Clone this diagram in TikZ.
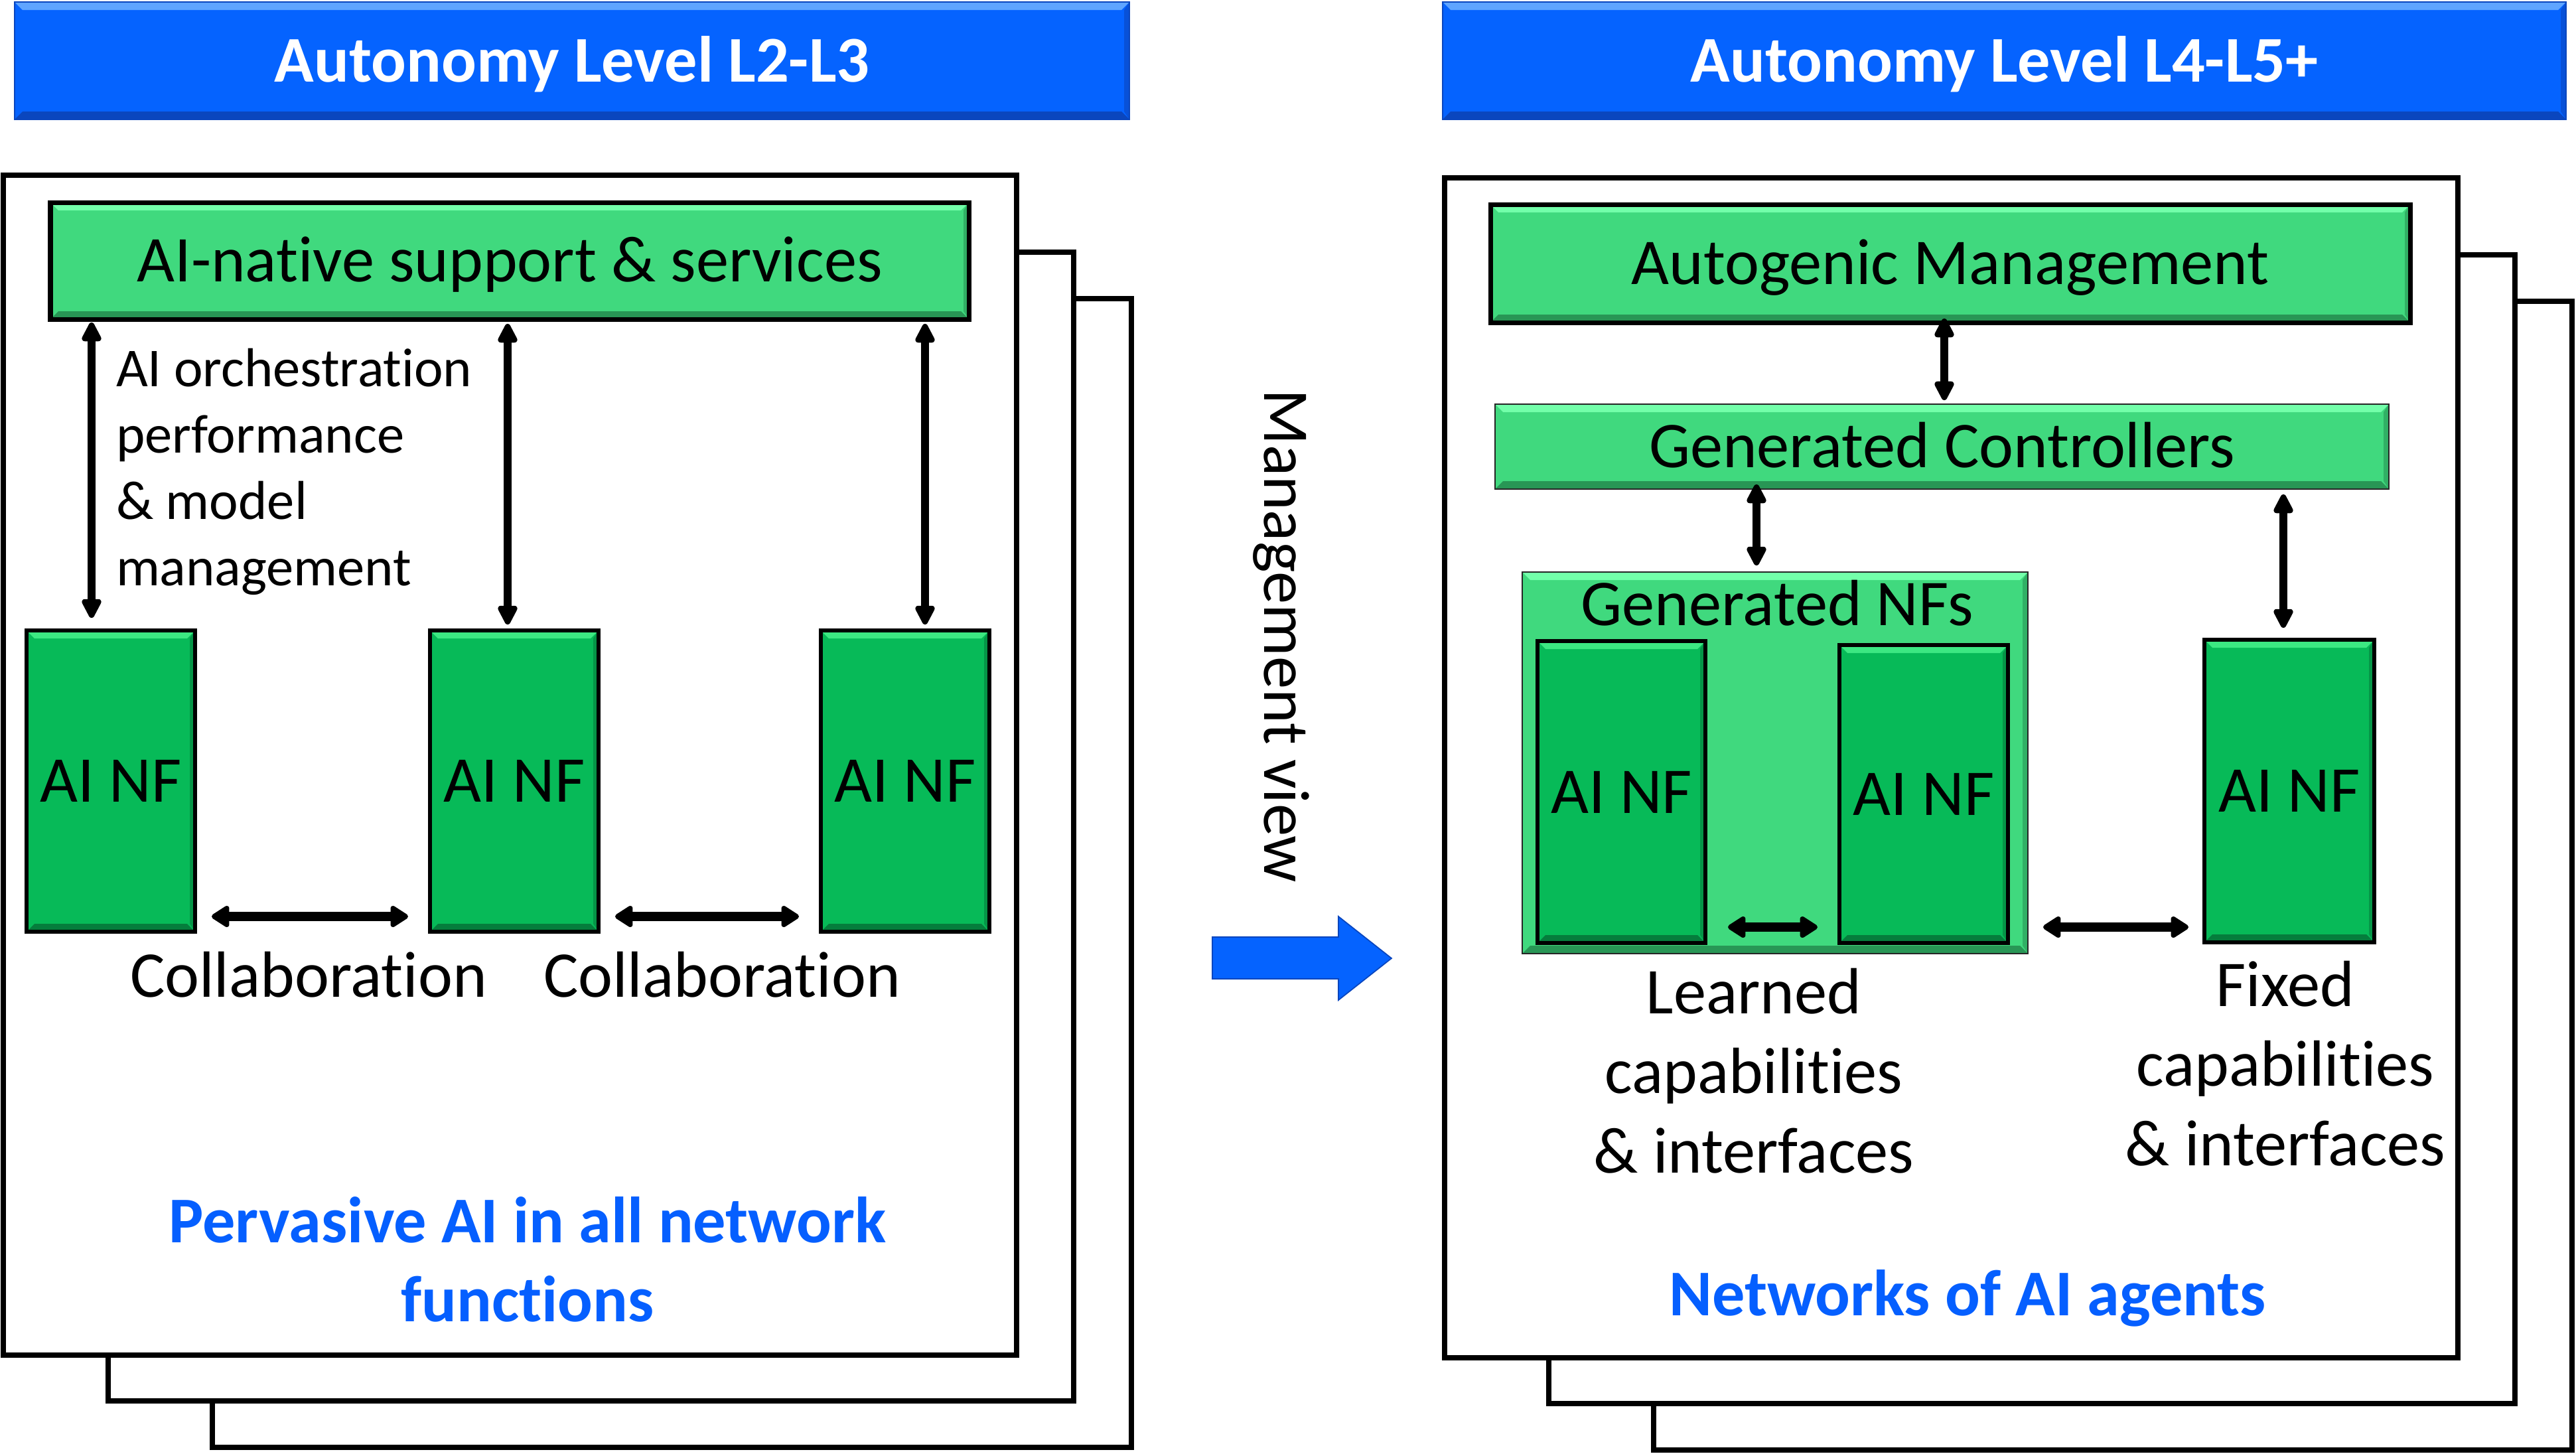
\documentclass[tikz,border=0pt]{standalone}
\usepackage{fontspec}
\setmainfont{Carlito}[Ligatures={NoCommon}]
\usetikzlibrary{arrows.meta,calc}
\definecolor{hblue}{RGB}{5,99,255}
\definecolor{hbluelt}{RGB}{95,165,255}
\definecolor{hbluedk}{RGB}{10,70,190}
\definecolor{lgreen}{RGB}{64,217,126}
\definecolor{lgreenlt}{RGB}{115,255,170}
\definecolor{lgreendk}{RGB}{40,150,85}
\definecolor{dgreen}{RGB}{7,186,88}
\definecolor{dgreenlt}{RGB}{60,232,130}
\definecolor{dgreendk}{RGB}{5,125,60}
\definecolor{tblue}{RGB}{5,95,255}
\newcommand{\mysz}{\fontsize{28}{34}\selectfont}
\newcommand{\mysmall}{\fontsize{23.5}{28}\selectfont}
\begin{document}
\begin{tikzpicture}[x=1cm,y=1cm,
  every node/.style={inner sep=0pt, outer sep=0pt},
  bevel/.style 2 args={path picture={
    \fill[#1] (path picture bounding box.north west) -- (path picture bounding box.north east)
      -- ([shift={(-0.12,-0.12)}]path picture bounding box.north east)
      -- ([shift={(0.12,-0.12)}]path picture bounding box.north west) -- cycle;
    \fill[#2] (path picture bounding box.south west) -- (path picture bounding box.south east)
      -- ([shift={(-0.12,0.12)}]path picture bounding box.south east)
      -- ([shift={(0.12,0.12)}]path picture bounding box.south west) -- cycle;
    \fill[#2, opacity=0.6] (path picture bounding box.north east) -- (path picture bounding box.south east)
      -- ([shift={(-0.08,0.12)}]path picture bounding box.south east)
      -- ([shift={(-0.08,-0.12)}]path picture bounding box.north east) -- cycle;
  }},
  capc/.style={text height=18pt, text depth=0pt},
  page/.style={draw=black, line width=0.08cm, fill=white},
  hdr/.style={fill=hblue, draw=hbluedk, line width=0.8pt, bevel={hbluelt}{hbluedk},
    text=white, font=\mysz\bfseries, capc},
  gbox/.style={fill=lgreen, draw=black, line width=0.07cm, bevel={lgreenlt}{lgreendk},
    font=\mysz, capc},
  gthin/.style={fill=lgreen, draw=black!85, line width=0.8pt, bevel={lgreenlt}{lgreendk},
    font=\mysz},
  nfbox/.style={fill=dgreen, draw=black, line width=0.065cm, bevel={dgreenlt}{dgreendk},
    minimum width=2.54cm, font=\mysz, capc},
  txt/.style={font=\mysz, anchor=base},
  small/.style={font=\mysmall, anchor=base west},
  btxt/.style={font=\mysz\bfseries, text=tblue, anchor=base},
  varr/.style={line width=3.6pt,
    {Triangle[length=0.34cm,width=0.32cm,round]}-{Triangle[length=0.34cm,width=0.32cm,round]}},
  harr/.style={line width=4.2pt,
    {Triangle[length=0.3cm,width=0.36cm,round]}-{Triangle[length=0.3cm,width=0.36cm,round]}}
]
\useasboundingbox (0,0) rectangle (38.82,-21.90);

% ---------------- left half ----------------
\node[page, minimum width=13.85cm, minimum height=17.31cm] (pL3) at (10.125,-13.155) {};
\node[page, minimum width=14.55cm, minimum height=17.31cm] (pL2) at (8.905,-12.455) {};
\node[page, minimum width=15.27cm, minimum height=17.78cm] (pL1) at (7.685,-11.53) {};

\node[hdr, minimum width=16.80cm, minimum height=1.77cm] (hL) at (8.62,-0.915) {Autonomy Level L2-L3};

\node[gbox, minimum width=13.84cm, minimum height=1.76cm] (ains) at (7.68,-3.93) {AI-native support \& services};

\node[nfbox, minimum height=4.54cm] (nf1) at (1.67,-11.77) {AI NF};
\node[nfbox, minimum height=4.54cm] (nf2) at (7.75,-11.77) {AI NF};
\node[nfbox, minimum height=4.54cm] (nf3) at (13.64,-11.77) {AI NF};

\coordinate (v1) at (1.38,0);
\coordinate (v2) at (7.65,0);
\coordinate (v3) at (13.94,0);
\draw[varr, shorten <=0.05cm, shorten >=0.19cm] (ains.south -| v1) -- (nf1.north -| v1);
\draw[varr, shorten <=0.07cm, shorten >=0.09cm] (ains.south -| v2) -- (nf2.north -| v2);
\draw[varr, shorten <=0.07cm, shorten >=0.09cm] (ains.south -| v3) -- (nf3.north -| v3);

\node[small] (or1) at (1.75,-5.82) {AI orchestration};
\node[small] (or2) at (1.75,-6.82) {performance};
\node[small] (or3) at (1.75,-7.82) {\& model};
\node[small] (or4) at (1.75,-8.82) {management};

\coordinate (h1) at (0,-13.81);
\draw[harr, shorten <=0.25cm, shorten >=0.33cm] (nf1.east |- h1) -- (nf2.west |- h1);
\draw[harr, shorten <=0.25cm, shorten >=0.33cm] (nf2.east |- h1) -- (nf3.west |- h1);

\node[txt] (col1) at (4.65,-15.02) {Collaboration};
\node[txt] (col2) at (10.88,-15.02) {Collaboration};

\node[btxt] (pv1) at (7.95,-18.72) {Pervasive AI in all network};
\node[btxt] (pv2) at (7.95,-19.91) {functions};

% ---------------- middle ----------------
\node[font=\mysz, rotate=-90, anchor=base] (mv) at (19.05,-9.58) {Management view};
\fill[hblue, draw=hbluedk, line width=0.5pt] (18.27,-14.12) -- (20.17,-14.12) -- (20.17,-13.81)
  -- (20.97,-14.44) -- (20.17,-15.07) -- (20.17,-14.75) -- (18.27,-14.75) -- cycle;

% ---------------- right half ----------------
\node[page, minimum width=13.84cm, minimum height=17.31cm] (pR3) at (31.84,-13.195) {};
\node[page, minimum width=14.56cm, minimum height=17.31cm] (pR2) at (30.62,-12.495) {};
\node[page, minimum width=15.27cm, minimum height=17.78cm] (pR1) at (29.405,-11.57) {};

\node[hdr, minimum width=16.93cm, minimum height=1.77cm] (hR) at (30.205,-0.915) {Autonomy Level L4-L5+};

\node[gbox, minimum width=13.86cm, minimum height=1.78cm] (auto) at (29.39,-3.97) {Autogenic Management};
\node[gthin, capc, minimum width=13.47cm, minimum height=1.28cm] (ctrl) at (29.265,-6.73) {Generated Controllers};
\node[gthin, minimum width=7.62cm, minimum height=5.75cm] (gnf) at (26.75,-11.495) {};
\node[txt] (gnft) at (26.78,-9.42) {Generated NFs};

\node[nfbox, minimum width=2.53cm, minimum height=4.55cm] (rnf1) at (24.435,-11.935) {AI NF};
\node[nfbox, minimum height=4.49cm] (rnf2) at (28.99,-11.965) {AI NF};
\node[nfbox, minimum width=2.56cm, minimum height=4.56cm] (rnf3) at (34.50,-11.92) {AI NF};

\coordinate (w1) at (29.30,0);
\coordinate (w2) at (26.47,0);
\coordinate (w3) at (34.41,0);
\draw[varr, shorten <=-0.06cm, shorten >=0.06cm] (auto.south -| w1) -- (ctrl.north -| w1);
\draw[varr, shorten <=-0.07cm, shorten >=0.10cm] (ctrl.south -| w2) -- (gnf.north -| w2);
\draw[varr, shorten <=0.08cm, shorten >=0.18cm] (ctrl.south -| w3) -- (rnf3.north -| w3);

\coordinate (h2) at (0,-13.97);
\draw[harr, shorten <=0.34cm, shorten >=0.33cm] (rnf1.east |- h2) -- (rnf2.west |- h2);
\draw[harr, shorten <=0.23cm, shorten >=0.24cm] (gnf.east |- h2) -- (rnf3.west |- h2);

\node[txt] (le1) at (26.43,-15.27) {Learned};
\node[txt] (le2) at (26.43,-16.47) {capabilities};
\node[txt] (le3) at (26.43,-17.67) {\& interfaces};

\node[txt] (fx1) at (34.44,-15.16) {Fixed};
\node[txt] (fx2) at (34.44,-16.36) {capabilities};
\node[txt] (fx3) at (34.44,-17.56) {\& interfaces};

\node[btxt] (net) at (29.65,-19.82) {Networks of AI agents};
\end{tikzpicture}
\end{document}
